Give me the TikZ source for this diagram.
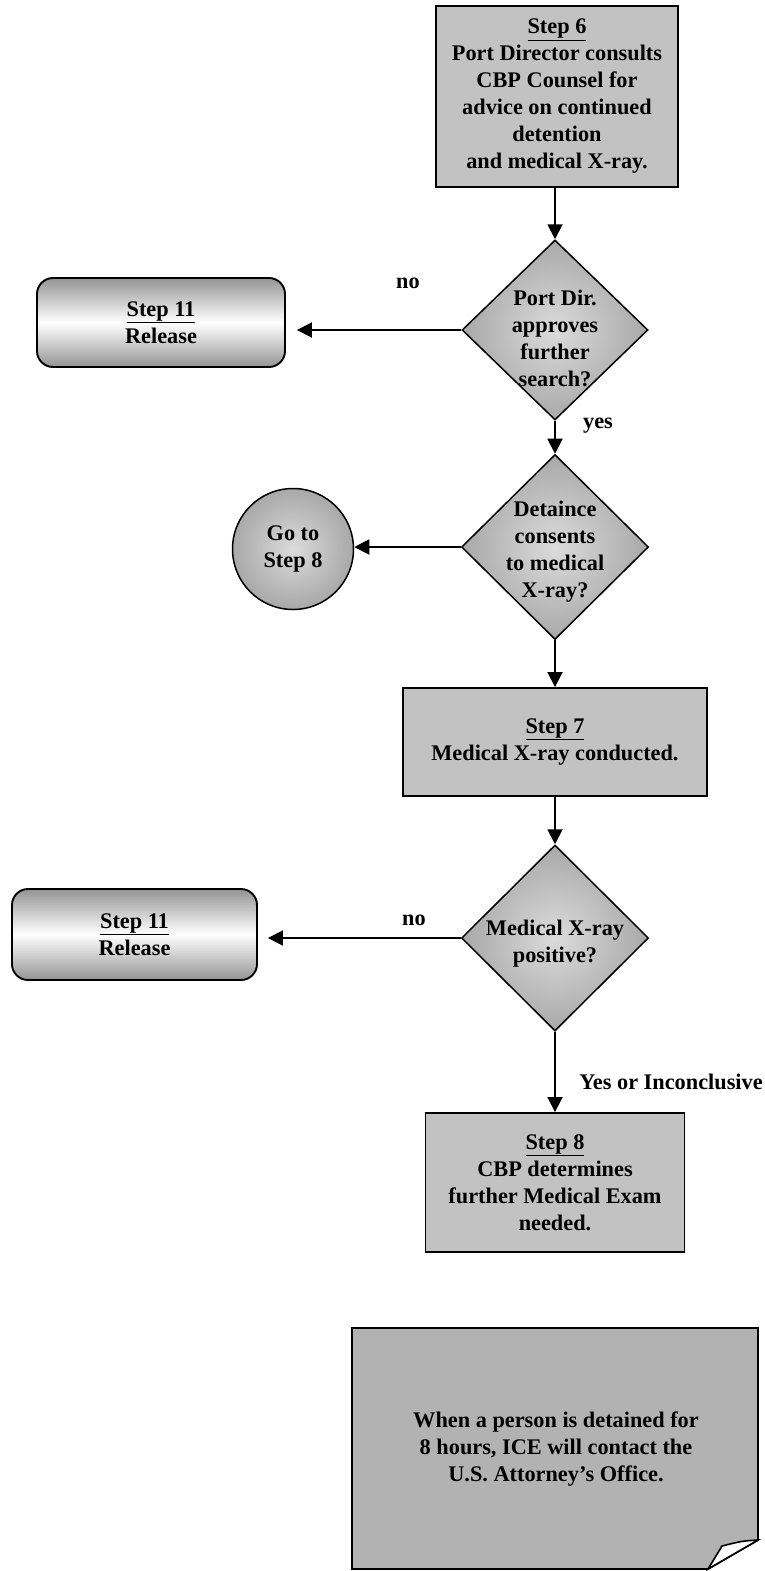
\documentclass[tikz,border=0pt]{standalone}
\usepackage{fontspec}
\setmainfont{Liberation Serif}
\usetikzlibrary{shapes.geometric,arrows.meta}

\definecolor{boxgray}{gray}{0.76}
\definecolor{notegray}{gray}{0.70}
\definecolor{diamondout}{gray}{0.66}
\definecolor{diamondin}{gray}{0.86}
\definecolor{releasedark}{gray}{0.58}

\begin{document}
\begin{tikzpicture}[x=1pt,y=-1pt,
  txt/.style={font=\bfseries\fontsize{22.3}{27}\selectfont, align=center, inner sep=0pt},
  stepbox/.style={txt, draw, line width=1.9pt, fill=boxgray},
  decision/.style={diamond, draw, line width=1.5pt, inner color=diamondin,
    outer color=diamondout, inner sep=0pt},
  releasebox/.style={txt, draw, line width=1.9pt, rounded corners=16pt,
    top color=releasedark, bottom color=releasedark, middle color=white},
  gotocircle/.style={txt, circle, draw, line width=1.5pt, inner color=diamondin,
    outer color=diamondout, minimum size=121pt},
  flow/.style={line width=1.9pt, -{Triangle[length=15pt,width=15pt]}},
  lbl/.style={txt}
]
\useasboundingbox (0,0) rectangle (765,1571);

% Step 6
\node[stepbox, minimum width=242pt, minimum height=181pt] (s6) at (557,96.5)
  {\underline{Step 6}\\Port Director consults\\CBP Counsel for\\advice on continued\\detention\\and medical X-ray.};

% first decision
\node[decision, minimum width=186pt, minimum height=180pt] (d1) at (555,330) {};
\node[txt] (d1t) at (555,338) {Port Dir.\\approves\\further\\search?};

% release (upper)
\node[releasebox, minimum width=248pt, minimum height=89pt] (rel1) at (161,322.5)
  {\underline{Step 11}\\Release};

% second decision
\node[decision, minimum width=187pt, minimum height=185pt] (d2) at (555,547) {};
\node[txt] (d2t) at (555,552) {Detaince\\consents\\to medical\\X-ray?};

% go to step 8
\node[gotocircle] (go) at (293,549) {Go to\\Step 8};

% Step 7
\node[stepbox, minimum width=304pt, minimum height=108pt] (s7) at (555,742)
  {\underline{Step 7}\\Medical X-ray conducted.};

% third decision
\node[decision, minimum width=187pt, minimum height=186pt] (d3) at (555,938) {};
\node[txt] (d3t) at (555,944) {Medical X-ray\\positive?};

% release (lower)
\node[releasebox, minimum width=245pt, minimum height=91pt] (rel2) at (134.5,934.5)
  {\underline{Step 11}\\Release};

% Step 8
\node[stepbox, minimum width=259pt, minimum height=139pt] (s8) at (555,1182.5)
  {\underline{Step 8}\\CBP determines\\further Medical Exam\\needed.};

% note with folded corner
\path[draw, line width=1.9pt, fill=notegray]
  (352,1328) -- (758,1328) -- (758,1540) -- (708,1569) -- (352,1569) -- cycle;
\path[draw, line width=1.6pt, fill=white]
  (758,1540) .. controls (742,1541) .. (722,1546) -- (708,1569) -- cycle;
\node[txt] (note) at (556,1449)
  {When a person is detained for\\8 hours, ICE will contact the\\U.S. Attorney's Office.};

% connectors
\draw[flow] (s6.south -| d1.north) -- (d1.north);
\draw[flow, shorten >=11pt] (d1.west) -- (d1.west -| rel1.east);
\draw[flow] (d1) -- (d2);
\draw[flow] (d2.west) -- (d2.west -| go.east);
\draw[flow] (d2) -- (s7);
\draw[flow] (s7) -- (d3);
\draw[flow, shorten >=10pt] (d3.west) -- (d3.west -| rel2.east);
\draw[flow] (d3) -- (s8);

% branch labels
\node[lbl] (no1) at (408,283) {no};
\node[lbl] (yes1) at (598,426) {yes};
\node[lbl] (no2) at (414,920) {no};
\node[lbl] (yesinc) at (671,1082) {Yes or Inconclusive};
\end{tikzpicture}
\end{document}
